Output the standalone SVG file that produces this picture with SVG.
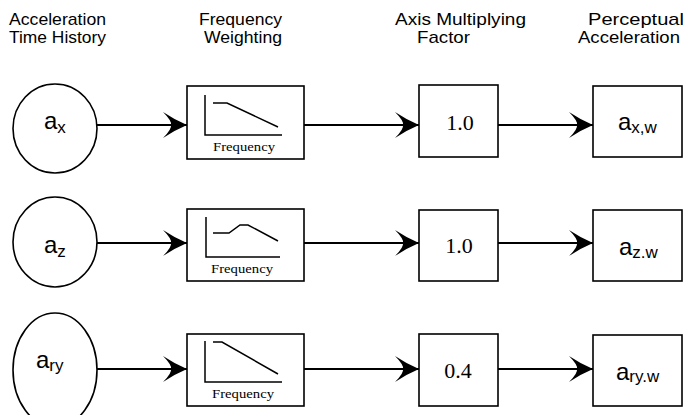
<svg xmlns="http://www.w3.org/2000/svg" width="683" height="415" viewBox="0 0 683 415">
<defs>
<style>
.hdr{font-family:"Liberation Sans",Arial,sans-serif;font-size:17px;fill:#000}
.node{fill:#fff;stroke:#000;stroke-width:1.6}
.plot{fill:none;stroke:#000;stroke-width:1.5}
.flab{font-family:"Liberation Serif","Times New Roman",serif;font-size:12px;fill:#000}
.val{font-family:"Liberation Serif","Times New Roman",serif;font-size:22px;fill:#000;text-anchor:middle}
.sym{font-family:"Liberation Sans",Arial,sans-serif;font-size:24px;fill:#000}
.sub{font-size:17px}
.conn{stroke:#000;stroke-width:2;fill:none;marker-end:url(#arr)}
</style>
<marker id="arr" markerUnits="userSpaceOnUse" markerWidth="24" markerHeight="26" viewBox="0 0 24 26" refX="24" refY="13" orient="auto">
<path d="M24,13 Q12,8 0,0 Q9,9 8,13 Q9,17 0,26 Q12,18 24,13 Z" fill="#000"/>
</marker>
</defs>
<rect width="683" height="415" fill="#fff"/>

<g id="headers">
<text class="hdr" x="9" y="25" textLength="97" lengthAdjust="spacingAndGlyphs">Acceleration</text>
<text class="hdr" x="9" y="43" textLength="97" lengthAdjust="spacingAndGlyphs">Time History</text>
<text class="hdr" x="199" y="25" textLength="83" lengthAdjust="spacingAndGlyphs">Frequency</text>
<text class="hdr" x="204" y="43" textLength="78" lengthAdjust="spacingAndGlyphs">Weighting</text>
<text class="hdr" x="395" y="25" textLength="131" lengthAdjust="spacingAndGlyphs">Axis Multiplying</text>
<text class="hdr" x="417" y="43" textLength="53" lengthAdjust="spacingAndGlyphs">Factor</text>
<text class="hdr" x="588" y="25" textLength="96" lengthAdjust="spacingAndGlyphs">Perceptual</text>
<text class="hdr" x="578" y="43" textLength="102" lengthAdjust="spacingAndGlyphs">Acceleration</text>
</g>

<g id="connectors">
<line class="conn" x1="97" y1="125" x2="187" y2="125"/>
<line class="conn" x1="304" y1="125" x2="419" y2="125"/>
<line class="conn" x1="498" y1="125" x2="593" y2="125"/>
<line class="conn" x1="97" y1="243" x2="187" y2="243"/>
<line class="conn" x1="304" y1="243" x2="419" y2="243"/>
<line class="conn" x1="498" y1="243" x2="593" y2="243"/>
<line class="conn" x1="96" y1="369" x2="187" y2="369"/>
<line class="conn" x1="304" y1="369" x2="419" y2="369"/>
<line class="conn" x1="498" y1="369" x2="593" y2="369"/>
</g>

<!-- Row 1 -->
<g id="ax">
<ellipse class="node" cx="55" cy="128.5" rx="42" ry="44.5"/>
<text class="sym" x="44" y="129">a<tspan class="sub" dy="4">x</tspan></text>
</g>
<g id="fw-x">
<rect class="node" x="187" y="86" width="117" height="73"/>
<path class="plot" d="M205,95 V135 H282"/>
<path class="plot" d="M213,103 H227 L278,127"/>
<text class="flab" x="213" y="151" textLength="62" lengthAdjust="spacingAndGlyphs">Frequency</text>
</g>
<g id="k-x">
<rect class="node" x="419" y="85" width="79" height="72"/>
<text class="val" x="460" y="130">1.0</text>
</g>
<g id="axw">
<rect class="node" x="593" y="86" width="89" height="71"/>
<text class="sym" x="618" y="130">a<tspan class="sub" dy="3">x,w</tspan></text>
</g>

<!-- Row 2 -->
<g id="az">
<ellipse class="node" cx="55" cy="242" rx="42" ry="45"/>
<text class="sym" x="44" y="253">a<tspan class="sub" dy="4">z</tspan></text>
</g>
<g id="fw-z">
<rect class="node" x="187" y="209" width="117" height="72"/>
<path class="plot" d="M206,217 V257 H280"/>
<path class="plot" d="M213,233 H229 L240,225 H248 L278,241"/>
<text class="flab" x="211" y="273" textLength="62" lengthAdjust="spacingAndGlyphs">Frequency</text>
</g>
<g id="k-z">
<rect class="node" x="419" y="210" width="79" height="71"/>
<text class="val" x="459" y="253">1.0</text>
</g>
<g id="azw">
<rect class="node" x="593" y="210" width="89" height="71"/>
<text class="sym" x="619" y="255">a<tspan class="sub" dy="3">z.w</tspan></text>
</g>

<!-- Row 3 -->
<g id="ary">
<ellipse class="node" cx="55" cy="370" rx="42" ry="57"/>
<text class="sym" x="36" y="368">a<tspan class="sub" dy="3">ry</tspan></text>
</g>
<g id="fw-ry">
<rect class="node" x="187" y="334" width="117" height="72"/>
<path class="plot" d="M205,341 V382 H282"/>
<path class="plot" d="M213,342 H222 L278,374"/>
<text class="flab" x="212" y="398" textLength="62" lengthAdjust="spacingAndGlyphs">Frequency</text>
</g>
<g id="k-ry">
<rect class="node" x="419" y="334" width="79" height="72"/>
<text class="val" x="458" y="378">0.4</text>
</g>
<g id="aryw">
<rect class="node" x="593" y="335" width="89" height="71"/>
<text class="sym" x="616" y="380">a<tspan class="sub" dy="2">ry.w</tspan></text>
</g>
</svg>
